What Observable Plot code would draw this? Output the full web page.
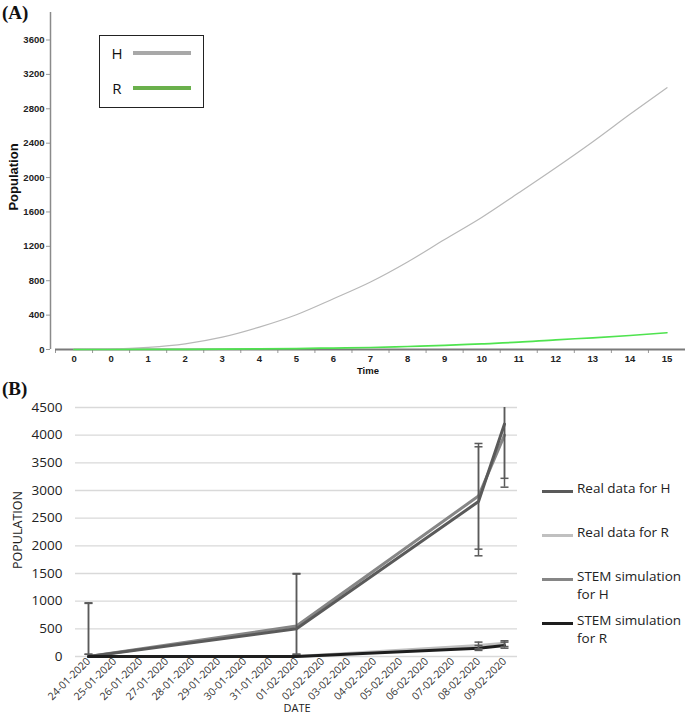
<!DOCTYPE html>
<html><head><meta charset="utf-8">
<script src="https://cdn.jsdelivr.net/npm/d3@7"></script>
<script src="https://cdn.jsdelivr.net/npm/@observablehq/plot@0.6"></script>
<style>
body{margin:0;background:#fff;}
#wrap{position:relative;width:685px;height:723px;overflow:hidden;background:#fff;}
.abs{position:absolute;white-space:nowrap;line-height:1;}
.ctr{transform:translate(-50%,-50%);}
.rot{transform:translate(-50%,-50%) rotate(-90deg);}
#a,#b{position:absolute;left:0;}
#a{top:0;} #b{top:380px;}
.ttl{font-family:"Liberation Serif","Times New Roman",serif;font-weight:bold;font-size:19px;color:#111;}
.lgA{font-family:"Open Sans",sans-serif;font-size:15px;color:#111;}
.sw{position:absolute;}
.lgB{font-family:"Open Sans",sans-serif;font-size:13.5px;color:#222;}
</style></head>
<body><div id="wrap">
<div id="a"></div>
<div id="b"></div>
</div>
<script>
// ---------- Panel (A) data ----------
const timeLabels = ["0","0","1","2","3","4","5","6","7","8","9","10","11","12","13","14","15"];
const hValues = [0, 5, 25, 66, 143, 260, 404, 590, 785, 1018, 1279, 1535, 1822, 2114, 2417, 2736, 3045];
const rValues = [0, 0, 1, 2, 4, 7, 11, 17, 23, 35, 47, 66, 85, 113, 136, 163, 195];
const yTicksA = [0, 400, 800, 1200, 1600, 2000, 2400, 2800, 3200, 3600];
const seriesA = ["H", "R"];
const colorsA = ["#a8a8a8", "#6ab04c"];

// ---------- Panel (B) data ----------
const dates = ["24-01-2020","25-01-2020","26-01-2020","27-01-2020","28-01-2020","29-01-2020","30-01-2020","31-01-2020","01-02-2020","02-02-2020","03-02-2020","04-02-2020","05-02-2020","06-02-2020","07-02-2020","08-02-2020","09-02-2020"];
const obsDates = ["24-01-2020","01-02-2020","08-02-2020","09-02-2020"];
const realH = [0, 500, 2800, 4200];
const realR = [0, 0, 200, 240];
const stemH = [0, 550, 2900, 4000];
const stemR = [0, 0, 150, 200];
const realHLow  = [40, 40, 1820, 3220];
const realHHigh = [970, 1490, 3790, 5200];
const stemHLow  = [40, 40, 1940, 3060];
const stemHHigh = [960, 1500, 3850, 4950];
const realRLow  = [null, null, 140, 180];
const realRHigh = [null, null, 260, 285];
const stemRLow  = [null, null, 110, 150];
const stemRHigh = [null, null, 200, 260];
const yTicksB = [0, 500, 1000, 1500, 2000, 2500, 3000, 3500, 4000, 4500];
const seriesB = ["Real data for H", "Real data for R", "STEM simulation for H", "STEM simulation for R"];
const colorsB = ["#5a5a5a", "#c0c0c0", "#868686", "#1e1e1e"];

// ---------- Panel (A) ----------
const rowsA = timeLabels.map((lab, i) => ({i, lab, H: hValues[i], R: rValues[i]}));
const plotA = Plot.plot({
  width: 685, height: 380,
  marginLeft: 55, marginRight: 0, marginTop: 12, marginBottom: 31,
  x: {type: "linear", domain: [-0.5, timeLabels.length - 0.5]},
  y: {domain: [0, 3920]},
  style: {fontFamily: "'Liberation Sans', Arial, sans-serif", fontSize: "9.5px", fontWeight: "bold", color: "#222", background: "transparent"},
  marks: [
    Plot.axisY({ticks: yTicksA, tickSize: 4, dx: -5, tickPadding: 2, label: null, stroke: "#999", tickFormat: d => String(d)}),
    Plot.ruleX([-0.5], {dx: -5, stroke: "#8a8a8a", strokeWidth: 1.5}),
    Plot.axisX({ticks: d3.range(-0.5, timeLabels.length, 1), tickSize: 4, tickFormat: () => "", label: null, stroke: "#999"}),
    Plot.axisX({ticks: d3.range(timeLabels.length), tickSize: 0, tickPadding: 6, tickFormat: i => timeLabels[i], label: null}),
    Plot.ruleY([0], {stroke: "#7a7a7a", strokeWidth: 2}),
    Plot.line(rowsA, {x: "i", y: "H", stroke: "#b8b8b8", strokeWidth: 1.2, curve: "monotone-x"}),
    Plot.line(rowsA, {x: "i", y: "R", stroke: "#4fe34f", strokeWidth: 1.7, curve: "monotone-x"})
  ]
});
document.getElementById("a").appendChild(plotA);

// ---------- Panel (B) ----------
const rowsB = obsDates.map((d, k) => ({date: d, realH: realH[k], realR: realR[k], stemH: stemH[k], stemR: stemR[k]}));
const errB = obsDates.flatMap((d, k) => [
  {date: d, lo: realHLow[k], hi: realHHigh[k]},
  {date: d, lo: stemHLow[k], hi: stemHHigh[k]},
  {date: d, lo: realRLow[k], hi: realRHigh[k]},
  {date: d, lo: stemRLow[k], hi: stemRHigh[k]}
]).filter(e => e.lo != null);
const capSymbol = {draw(ctx) { ctx.moveTo(-4, 0); ctx.lineTo(4, 0); }};
const plotB = Plot.plot({
  width: 685, height: 343,
  marginLeft: 75, marginRight: 168, marginTop: 27, marginBottom: 67,
  x: {type: "point", domain: dates, padding: 0.5},
  y: {domain: [0, 4500]},
  style: {fontFamily: "'Open Sans', sans-serif", fontSize: "13.5px", color: "#222", background: "transparent"},
  marks: [
    Plot.ruleY(yTicksB, {stroke: "#d9d9d9", strokeWidth: 1.3}),
    Plot.axisY({ticks: yTicksB, tickSize: 0, tickPadding: 13, label: null, tickFormat: d => String(d)}),
    Plot.axisX({tickRotate: -45, tickSize: 0, tickPadding: 3, label: null, fontSize: 10.5, fill: "#333"}),
    Plot.line(rowsB, {x: "date", y: "realR", stroke: colorsB[1], strokeWidth: 3}),
    Plot.line(rowsB, {x: "date", y: "stemH", stroke: colorsB[2], strokeWidth: 3}),
    Plot.line(rowsB, {x: "date", y: "realH", stroke: colorsB[0], strokeWidth: 3}),
    Plot.line(rowsB, {x: "date", y: "stemR", stroke: colorsB[3], strokeWidth: 3}),
    Plot.ruleX(errB, {x: "date", y1: "lo", y2: "hi", stroke: "#5a5a5a", strokeWidth: 1.5, clip: true}),
    Plot.dot(errB, {x: "date", y: "lo", symbol: capSymbol, r: 4, fill: "none", stroke: "#5a5a5a", strokeWidth: 1.5, clip: true}),
    Plot.dot(errB, {x: "date", y: "hi", symbol: capSymbol, r: 4, fill: "none", stroke: "#5a5a5a", strokeWidth: 1.5, clip: true})
  ]
});
document.getElementById("b").appendChild(plotB);

// ---------- Text & legends ----------
const wrap = document.getElementById("wrap");
function addDiv(cls, style, text) {
  const d = document.createElement("div");
  d.className = cls; d.style.cssText = style; if (text != null) d.textContent = text;
  wrap.appendChild(d); return d;
}
addDiv("abs ttl", "left:2px;top:3px;", "(A)");
addDiv("abs ttl", "left:2px;top:379px;", "(B)");
addDiv("abs rot", "left:13px;top:177px;font-family:'Liberation Sans',Arial,sans-serif;font-weight:bold;font-size:13px;color:#111;", "Population");
addDiv("abs ctr", "left:368px;top:371px;font-family:'Liberation Sans',Arial,sans-serif;font-weight:bold;font-size:9.5px;color:#111;", "Time");
addDiv("abs rot", "left:18px;top:530px;font-family:'Open Sans',sans-serif;font-size:12.5px;color:#222;", "POPULATION");
addDiv("abs ctr", "left:297px;top:707px;font-family:'Open Sans',sans-serif;font-size:11px;color:#222;", "DATE");

// Legend A
addDiv("abs", "left:99px;top:35px;width:103px;height:71px;border:1.5px solid #222;background:#fff;");
const lgAy = [53, 88];
seriesA.forEach((s, k) => {
  addDiv("abs lgA ctr", `left:117px;top:${lgAy[k]}px;`, s);
  addDiv("sw", `left:133px;top:${lgAy[k] - 2.5}px;width:58px;height:4px;background:${colorsA[k]};`);
});

// Legend B
const lgB = [
  {y: 491, lines: ["Real data for H"]},
  {y: 535, lines: ["Real data for R"]},
  {y: 579, lines: ["STEM simulation", "for H"]},
  {y: 623, lines: ["STEM simulation", "for R"]}
];
lgB.forEach((it, k) => {
  addDiv("sw", `left:542px;top:${it.y - 1.5}px;width:31px;height:3px;background:${colorsB[k]};`);
  it.lines.forEach((t, j) => {
    addDiv("abs lgB", `left:577px;top:${it.y + j * 18 - 9}px;`, t);
  });
});
</script>
</body></html>
